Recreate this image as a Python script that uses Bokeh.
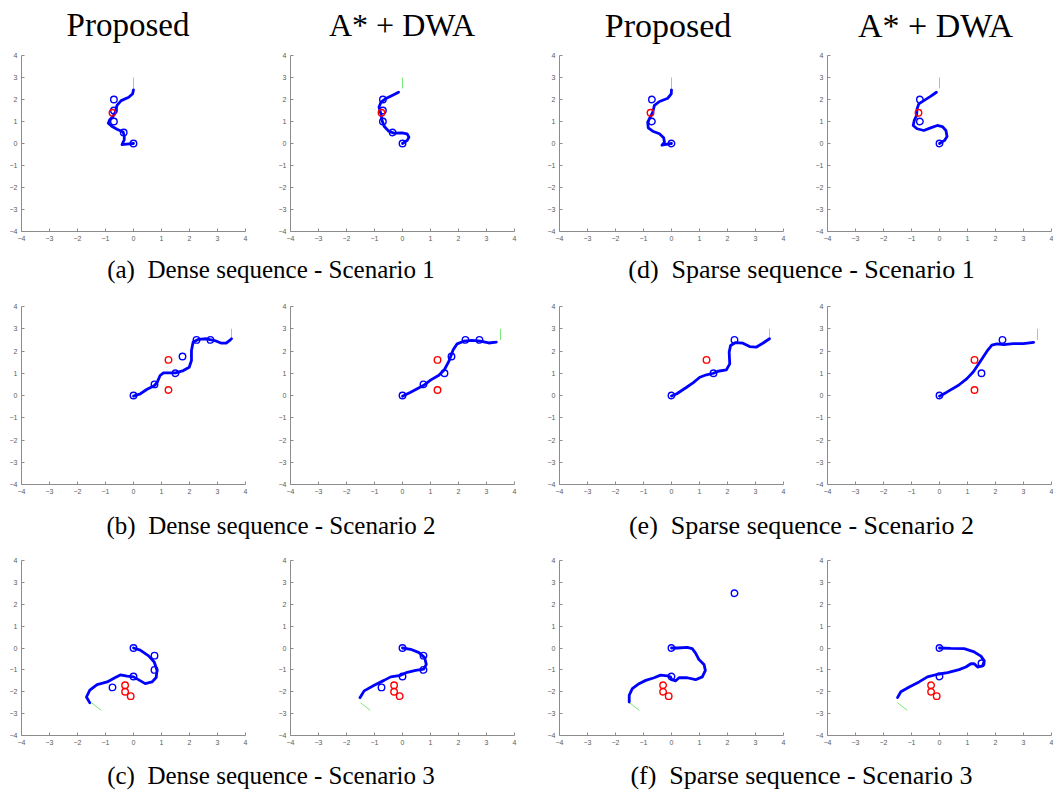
from bokeh.plotting import figure
from bokeh.layouts import column, row
from bokeh.models import Div, Range1d, FixedTicker
from bokeh.embed import file_html
from bokeh.resources import INLINE

# ---------------- data ----------------
col_titles = ["Proposed", "A* + DWA", "Proposed", "A* + DWA"]
captions = ["(a)&nbsp;&nbsp;Dense sequence - Scenario 1", "(d)&nbsp;&nbsp;Sparse sequence - Scenario 1",
            "(b)&nbsp;&nbsp;Dense sequence - Scenario 2", "(e)&nbsp;&nbsp;Sparse sequence - Scenario 2",
            "(c)&nbsp;&nbsp;Dense sequence - Scenario 3", "(f)&nbsp;&nbsp;Sparse sequence - Scenario 3"]
ticks = [-4, -3, -2, -1, 0, 1, 2, 3, 4]

# Scenario 1 waypoints / obstacles / goal heading
s1_dense_wp_x = [-0.7, -0.7, -0.7, -0.35, 0.0]
s1_dense_wp_y = [2.0, 1.5, 1.0, 0.5, 0.0]
s1_sparse_wp_x = [-0.7, -0.7, 0.0]
s1_sparse_wp_y = [2.0, 1.0, 0.0]
s1_obs_x = [-0.75]
s1_obs_y = [1.4]
s1_goal_x = [0.0, 0.0]
s1_goal_y = [2.5, 3.0]

# Scenario 2
s2_dense_wp_x = [0.0, 0.75, 1.5, 1.75, 2.25, 2.75]
s2_dense_wp_y = [0.0, 0.5, 1.0, 1.75, 2.5, 2.5]
s2_sparse_wp_x = [0.0, 1.5, 2.25]
s2_sparse_wp_y = [0.0, 1.0, 2.5]
s2_obs_x = [1.25, 1.25]
s2_obs_y = [1.6, 0.25]
s2_sparse_prop_obs_x = [1.25]
s2_sparse_prop_obs_y = [1.6]
s2_goal_x = [3.5, 3.5]
s2_goal_y = [2.5, 3.0]

# Scenario 3
s3_dense_wp_x = [0.0, 0.75, 0.75, 0.0, -0.75]
s3_dense_wp_y = [0.0, -0.35, -1.0, -1.3, -1.8]
s3_sparse_prop_wp_x = [0.0, 0.0, 2.25]
s3_sparse_prop_wp_y = [0.0, -1.3, 2.5]
s3_sparse_dwa_wp_x = [0.0, 1.5, 0.0]
s3_sparse_dwa_wp_y = [0.0, -0.7, -1.3]
s3_obs_x = [-0.3, -0.3, -0.1]
s3_obs_y = [-1.7, -2.0, -2.2]
s3_goal_x = [-1.5, -1.15]
s3_goal_y = [-2.5, -2.85]

# Trajectories
a_prop_x = [0, -0.25, -0.41, -0.33, -0.33, -0.37, -0.59, -0.76, -0.9, -0.85, -0.73, -0.65, -0.59, -0.44, -0.17, -0.03, 0.0]
a_prop_y = [0, -0.03, -0.05, 0.17, 0.35, 0.52, 0.65, 0.77, 0.92, 1.08, 1.23, 1.42, 1.73, 1.95, 2.1, 2.26, 2.44]
a_dwa_x = [0, 0.17, 0.23, 0.16, -0.02, -0.31, -0.49, -0.65, -0.73, -0.77, -0.84, -0.77, -0.61, -0.37, -0.14]
a_dwa_y = [0, 0.14, 0.29, 0.44, 0.48, 0.47, 0.56, 0.77, 1.05, 1.35, 1.65, 1.88, 2.03, 2.18, 2.33]
d_prop_x = [0, -0.25, -0.34, -0.25, -0.28, -0.43, -0.67, -0.83, -0.85, -0.77, -0.67, -0.61, -0.43, -0.13, -0.01, 0]
d_prop_y = [0, -0.05, -0.08, 0.06, 0.26, 0.44, 0.56, 0.71, 0.97, 1.17, 1.42, 1.73, 1.91, 2.06, 2.26, 2.44]
d_dwa_x = [0, 0.18, 0.27, 0.23, 0.1, -0.08, -0.32, -0.56, -0.8, -0.94, -0.9, -0.82, -0.8, -0.74, -0.56, -0.32, -0.11]
d_dwa_y = [0, 0.14, 0.32, 0.59, 0.77, 0.82, 0.71, 0.59, 0.67, 0.82, 1.05, 1.27, 1.58, 1.8, 1.95, 2.14, 2.33]

b_prop_x = [0, 0.24, 0.47, 0.75, 0.85, 0.95, 1.07, 1.3, 1.5, 1.78, 1.99, 2.07, 2.07, 2.13, 2.31, 2.6, 2.9, 3.14, 3.31, 3.46, 3.5]
b_prop_y = [-0.03, 0.07, 0.27, 0.45, 0.6, 0.9, 1.02, 1.02, 1.02, 1.12, 1.27, 1.57, 2.02, 2.4, 2.52, 2.55, 2.47, 2.35, 2.35, 2.5, 2.55]
b_dwa_x = [0, 0.29, 0.76, 1.0, 1.3, 1.5, 1.65, 1.81, 1.95, 2.19, 2.48, 2.78, 3.08, 3.35]
b_dwa_y = [-0.03, 0.15, 0.46, 0.69, 0.91, 1.17, 1.52, 2.06, 2.32, 2.44, 2.48, 2.44, 2.36, 2.4]
e_prop_x = [0, 0.19, 0.54, 0.78, 1.01, 1.25, 1.5, 1.66, 1.96, 2.08, 2.06, 2.11, 2.29, 2.55, 2.79, 3.02, 3.26, 3.5]
e_prop_y = [-0.02, 0.08, 0.37, 0.58, 0.82, 0.93, 1.0, 1.09, 1.15, 1.42, 1.95, 2.25, 2.38, 2.35, 2.2, 2.17, 2.35, 2.55]
e_dwa_x = [0, 0.26, 0.68, 0.98, 1.21, 1.45, 1.69, 1.87, 2.05, 2.29, 2.64, 3.0, 3.36]
e_dwa_y = [-0.03, 0.15, 0.46, 0.76, 1.07, 1.52, 1.98, 2.26, 2.32, 2.29, 2.33, 2.33, 2.39]

c_prop_x = [0, 0.24, 0.54, 0.74, 0.84, 0.81, 0.66, 0.42, 0.22, 0, -0.23, -0.47, -0.65, -0.94, -1.3, -1.56, -1.68, -1.56]
c_prop_y = [0, -0.1, -0.36, -0.64, -1.02, -1.35, -1.55, -1.63, -1.48, -1.32, -1.29, -1.23, -1.35, -1.55, -1.67, -1.93, -2.24, -2.51]
c_dwa_x = [0, 0.29, 0.59, 0.79, 0.85, 0.76, 0.47, 0.17, -0.07, -0.42, -0.66, -1.01, -1.37, -1.52]
c_dwa_y = [0, -0.06, -0.21, -0.44, -0.75, -0.97, -1.02, -1.11, -1.25, -1.32, -1.48, -1.7, -1.96, -2.27]
f_prop_x = [0, 0.21, 0.56, 0.74, 0.86, 0.98, 1.16, 1.21, 1.1, 0.86, 0.56, 0.27, 0.15, 0.0, -0.03, -0.15, -0.39, -0.62, -0.92, -1.16, -1.4, -1.51, -1.51]
f_prop_y = [0, 0, 0.03, -0.03, -0.23, -0.53, -0.75, -1.02, -1.32, -1.45, -1.36, -1.36, -1.5, -1.45, -1.33, -1.27, -1.24, -1.36, -1.48, -1.63, -1.86, -2.16, -2.47]
f_dwa_x = [0, 0.4, 0.88, 1.24, 1.48, 1.6, 1.54, 1.36, 1.24, 1.12, 0.94, 0.7, 0.29, -0.07, -0.43, -0.73, -1.08, -1.38, -1.5]
f_dwa_y = [0, -0.02, -0.03, -0.18, -0.37, -0.59, -0.82, -0.87, -0.72, -0.72, -0.87, -0.99, -1.13, -1.2, -1.32, -1.55, -1.78, -2.0, -2.27]

# ---------------- layout helpers ----------------
BLUE = "#0000ff"
RED = "#ff0000"
GREEN = "#78e878"


def panel(path_x, path_y, wp_x, wp_y, obs_x, obs_y, goal_x, goal_y,
          width, height, left, right, top, bottom):
    p = figure(width=width, height=height, output_backend="svg", toolbar_location=None,
               x_range=Range1d(-4, 4), y_range=Range1d(-4, 4),
               min_border_left=left, min_border_right=right,
               min_border_top=top, min_border_bottom=bottom)
    p.outline_line_color = None
    p.grid.grid_line_color = None
    p.background_fill_color = "white"
    p.border_fill_color = "white"
    for ax in (p.xaxis, p.yaxis):
        ax.ticker = FixedTicker(ticks=ticks)
        ax.axis_line_color = "#8c8c8c"
        ax.axis_line_width = 1
        ax.major_tick_line_color = "#8c8c8c"
        ax.major_tick_in = 3
        ax.major_tick_out = 0
        ax.minor_tick_line_color = None
        ax.major_label_text_font = "Liberation Sans"
        ax.major_label_text_font_size = "7px"
        ax.major_label_text_color = "#5a5a5a"
        ax.major_label_standoff = 4
    p.line(goal_x, goal_y, line_color=GREEN, line_width=1)
    p.line(path_x, path_y, line_color=BLUE, line_width=2.8, line_join="round", line_cap="round")
    p.scatter(wp_x, wp_y, marker="circle", size=6.5, fill_color=None, line_color=BLUE, line_width=1.4)
    p.scatter(obs_x, obs_y, marker="circle", size=6.5, fill_color=None, line_color=RED, line_width=1.4)
    return p


def label(text, w, h, size, dx=0, dy=0):
    html = (f'<div style="width:{w}px;height:{h}px;line-height:{h}px;text-align:center;'
            f'font-family:\'Liberation Serif\',serif;font-size:{size}px;color:#000;'
            f'position:relative;left:{dx}px;top:{dy}px;white-space:nowrap;">{text}</div>')
    return Div(text=html, width=w, height=h, margin=(0, 0, 0, 0))


widths = [268, 268, 268, 249]
lefts = [21, 22, 23, 23]
rights = [23, 22, 21, 2]
row_specs = [(205, 10, 19), (216, 16, 22), (211, 15, 21)]

panels_data = [
    [(a_prop_x, a_prop_y, s1_dense_wp_x, s1_dense_wp_y, s1_obs_x, s1_obs_y, s1_goal_x, s1_goal_y),
     (a_dwa_x, a_dwa_y, s1_dense_wp_x, s1_dense_wp_y, s1_obs_x, s1_obs_y, s1_goal_x, s1_goal_y),
     (d_prop_x, d_prop_y, s1_sparse_wp_x, s1_sparse_wp_y, s1_obs_x, s1_obs_y, s1_goal_x, s1_goal_y),
     (d_dwa_x, d_dwa_y, s1_sparse_wp_x, s1_sparse_wp_y, s1_obs_x, s1_obs_y, s1_goal_x, s1_goal_y)],
    [(b_prop_x, b_prop_y, s2_dense_wp_x, s2_dense_wp_y, s2_obs_x, s2_obs_y, s2_goal_x, s2_goal_y),
     (b_dwa_x, b_dwa_y, s2_dense_wp_x, s2_dense_wp_y, s2_obs_x, s2_obs_y, s2_goal_x, s2_goal_y),
     (e_prop_x, e_prop_y, s2_sparse_wp_x, s2_sparse_wp_y, s2_sparse_prop_obs_x, s2_sparse_prop_obs_y, s2_goal_x, s2_goal_y),
     (e_dwa_x, e_dwa_y, s2_sparse_wp_x, s2_sparse_wp_y, s2_obs_x, s2_obs_y, s2_goal_x, s2_goal_y)],
    [(c_prop_x, c_prop_y, s3_dense_wp_x, s3_dense_wp_y, s3_obs_x, s3_obs_y, s3_goal_x, s3_goal_y),
     (c_dwa_x, c_dwa_y, s3_dense_wp_x, s3_dense_wp_y, s3_obs_x, s3_obs_y, s3_goal_x, s3_goal_y),
     (f_prop_x, f_prop_y, s3_sparse_prop_wp_x, s3_sparse_prop_wp_y, s3_obs_x, s3_obs_y, s3_goal_x, s3_goal_y),
     (f_dwa_x, f_dwa_y, s3_sparse_dwa_wp_x, s3_sparse_dwa_wp_y, s3_obs_x, s3_obs_y, s3_goal_x, s3_goal_y)],
]

caption_heights = [40, 39, 40]
title_dx = [-6, 0, -2, 7]
title_sizes = [33, 32, 34, 34]

children = [row(*[label(t, w, 45, s, dx, 3) for t, w, dx, s in zip(col_titles, widths, title_dx, title_sizes)])]
for r, (h, top, bottom) in enumerate(row_specs):
    figs = [panel(*panels_data[r][c], widths[c], h, lefts[c], rights[c], top, bottom) for c in range(4)]
    children.append(row(*figs))
    ch = caption_heights[r]
    children.append(row(label(captions[2 * r], 536, ch, 25, 3),
                        label(captions[2 * r + 1], 517, ch, 26, 7)))

layout = column(*children)

open("out.html", "w").write(file_html(layout, INLINE))
